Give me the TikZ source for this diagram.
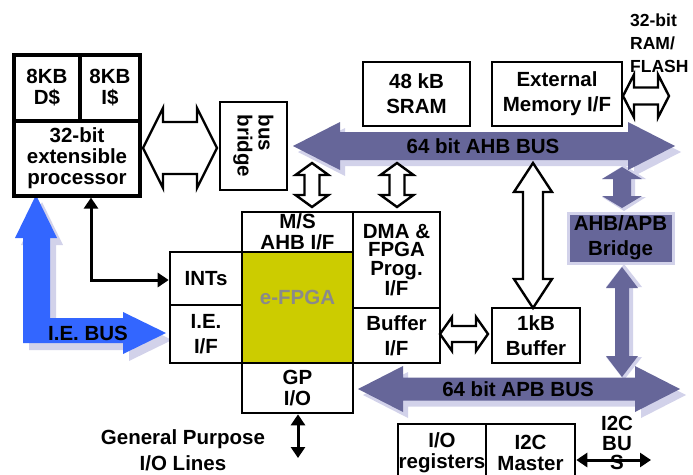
\documentclass[tikz,border=0pt]{standalone}
\usepackage{fontspec}
\setmainfont{Liberation Sans}
\usetikzlibrary{arrows.meta}

\definecolor{busviolet}{HTML}{666699}
\definecolor{busshade}{HTML}{D2D2EA}
\definecolor{iebus}{HTML}{3366FF}
\definecolor{fpgaolive}{HTML}{CCCC00}
\definecolor{fpgagrey}{HTML}{8A8A8A}

% horizontal double block arrow: [style]{x1}{x2}{yc}{head half}{shaft half}{head length}
\newcommand\hdbl[7][]{%
  \path[#1] (#2,#4) -- (#2+#7,#4-#5) -- (#2+#7,#4-#6) -- (#3-#7,#4-#6) -- (#3-#7,#4-#5)
    -- (#3,#4) -- (#3-#7,#4+#5) -- (#3-#7,#4+#6) -- (#2+#7,#4+#6) -- (#2+#7,#4+#5) -- cycle;}
% vertical double block arrow: [style]{xc}{y1}{y2}{head half}{shaft half}{head length}
\newcommand\vdbl[7][]{%
  \path[#1] (#2,#3) -- (#2+#5,#3+#7) -- (#2+#6,#3+#7) -- (#2+#6,#4-#7) -- (#2+#5,#4-#7)
    -- (#2,#4) -- (#2-#5,#4-#7) -- (#2-#6,#4-#7) -- (#2-#6,#3+#7) -- (#2-#5,#3+#7) -- cycle;}

\begin{document}
\begin{tikzpicture}[x=1pt,y=-1pt,
  every node/.style={font=\bfseries\fontsize{20.5}{21}\selectfont, align=center, inner sep=0pt},
  wide/.style={font=\bfseries\fontsize{20.5}{25}\selectfont},
  box/.style={draw, line width=2.6pt, fill=white},
  hollow/.style={draw, line width=2.4pt, fill=white, line join=miter},
  busfill/.style={fill=busviolet},
  busshadow/.style={fill=busshade},
  wire/.style={line width=3pt, {Triangle[length=11pt,width=14pt]}-{Triangle[length=11pt,width=14pt]}}
]
\useasboundingbox (0,0) rectangle (693,474);

% ---------- shadows of the system buses ----------
\vdbl[busshadow]{624}{165}{211}{22}{11}{14}
\vdbl[busshadow]{624}{264}{380}{18}{9}{23}
\hdbl[busshadow]{298}{681}{152}{24}{14}{47}
\hdbl[busshadow]{363}{686}{395}{23}{11.5}{45}

% ---------- AHB and APB buses ----------
\hdbl[busfill]{293}{675}{146}{24}{14}{47}
\node (ahblbl) at (483,146) {64 bit AHB BUS};
\hdbl[busfill]{358}{680}{389}{23}{11.5}{45}
\node (apblbl) at (518,389) {64 bit APB BUS};
\vdbl[busfill]{622}{167}{208}{20}{9}{12}
\vdbl[busfill]{622}{267}{377}{16}{7}{21}

% ---------- I.E. bus (blue) ----------
\fill[busshade, shift={(6,7)}] (36,195) -- (57,238) -- (50,238) -- (50,318) -- (123,318)
  -- (123,312) -- (166,333) -- (123,354) -- (123,343) -- (23,343) -- (23,238) -- (15,238) -- cycle;
\fill[iebus] (36,195) -- (57,238) -- (50,238) -- (50,318) -- (123,318)
  -- (123,312) -- (166,333) -- (123,354) -- (123,343) -- (23,343) -- (23,238) -- (15,238) -- cycle;
\node (ielbl) at (88,333) {I.E. BUS};

% ---------- processor ----------
\node[box, line width=3.2pt, minimum width=66pt, minimum height=66pt] (dcache) at (47,88) {8KB\\D\$};
\node[box, line width=3.2pt, minimum width=60pt, minimum height=66pt] (icache) at (110,88) {8KB\\I\$};
\node[box, line width=3.2pt, minimum width=126pt, minimum height=75pt] (proc) at (77,158.5) {32-bit\\extensible\\processor};

% ---------- bus bridge ----------
\node[box, minimum width=67pt, minimum height=88pt] (bbridge) at (253.5,146) {};
\node[rotate=-90, align=left] (bblbl) at (bbridge.center) {bus\\bridge};

% ---------- memories ----------
\node[box, wide, minimum width=107pt, minimum height=64pt] (sram) at (416.5,94) {48 kB\\SRAM};
\node[box, wide, minimum width=130pt, minimum height=64pt] (extmem) at (557,94) {External\\Memory I/F};
\node[anchor=west, align=left, font=\bfseries\fontsize{17.5}{23}\selectfont] (ramflash) at (630,43) {32-bit\\RAM/\\FLASH};

% ---------- e-FPGA block ----------
\node[box, minimum width=111pt, minimum height=40pt] (ahbif) at (297.5,232) {M/S\\AHB I/F};
\node[box, minimum width=72pt, minimum height=53pt] (ints) at (206,278.5) {INTs};
\node[box, wide, minimum width=72pt, minimum height=58pt] (ieif) at (206,334) {I.E.\\I/F};
\node[box, fill=fpgaolive, minimum width=111pt, minimum height=111pt] (fpga) at (297.5,307.5) {};
\node[text=fpgagrey] (fpgalbl) at ([yshift=10pt]fpga.center) {e-FPGA};
\node[box, minimum width=111pt, minimum height=50pt] (gpio) at (297.5,388) {GP\\I/O};
\node[box, font=\bfseries\fontsize{20.5}{18.5}\selectfont, minimum width=87pt, minimum height=96pt] (dma) at (396.5,260) {DMA \&\\FPGA\\Prog.\\I/F};
\node[box, wide, minimum width=87pt, minimum height=55pt] (bufif) at (396.5,335.5) {Buffer\\I/F};
\node[box, wide, minimum width=88pt, minimum height=55pt] (buffer) at (536,335.5) {1kB\\Buffer};

% ---------- AHB/APB bridge ----------
\node[fill=busviolet, draw=busshade, line width=3pt, wide, minimum width=105pt, minimum height=50pt] (apbbridge) at (620.5,238) {AHB/APB\\Bridge};

% ---------- peripherals ----------
\node[box, minimum width=88pt, minimum height=58pt] (ioregs) at (442,453) {I/O\\registers};
\node[box, minimum width=89pt, minimum height=58pt] (i2c) at (530.5,453) {I2C\\Master};
\node[font=\bfseries\fontsize{20.5}{19.5}\selectfont] (i2clbl) at (617,443) {I2C\\BU\\S};
\node[font=\bfseries\fontsize{20.5}{26}\selectfont] (gplbl) at (183,450) {General Purpose\\I/O Lines};

% ---------- hollow data paths ----------
\hdbl[hollow]{143}{217}{148}{40}{26}{20}
\hdbl[hollow]{623}{669}{96}{21.5}{8.5}{11}
\vdbl[hollow]{312}{163}{207}{16.5}{7.5}{12}
\vdbl[hollow]{397}{163}{207}{16.5}{7.5}{12}
\vdbl[hollow]{533}{163}{308}{19}{10}{29}
\hdbl[hollow]{440}{488}{334}{17}{8}{12}

% ---------- single-line signals ----------
\coordinate (bend) at (91,280);
\draw[wire] (proc.south -| bend) -- (bend) -- (ints.west |- bend);
\coordinate (gpend) at (298,458);
\draw[wire] (gpio.south -| gpend) -- (gpend);
\coordinate (i2cend) at (651,460);
\draw[wire] (i2c.east |- i2cend) -- (i2cend);
\end{tikzpicture}
\end{document}
